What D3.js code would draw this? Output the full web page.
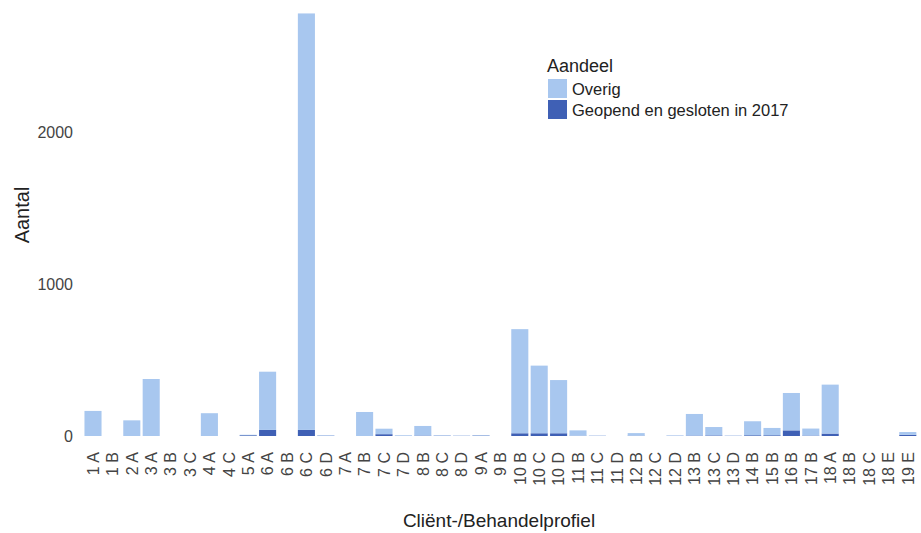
<!DOCTYPE html>
<html>
<head>
<meta charset="utf-8">
<script src="https://cdn.jsdelivr.net/npm/d3@7"></script>
<style>
  html, body { margin: 0; padding: 0; background: #ffffff; }
  svg { display: block; font-family: "Liberation Sans", Arial, sans-serif; }
</style>
</head>
<body>
<svg id="chart" width="921" height="533"></svg>
<script>
// ---- data ----
const categories = ["1 A","1 B","2 A","3 A","3 B","3 C","4 A","4 C","5 A","6 A","6 B","6 C","6 D","7 A","7 B","7 C","7 D","8 B","8 C","8 D","9 A","9 B","10 B","10 C","10 D","11 B","11 C","11 D","12 B","12 C","12 D","13 B","13 C","13 D","14 B","15 B","16 B","17 B","18 A","18 B","18 C","18 E","19 E"];
// "Geopend en gesloten in 2017"
const geopend = [0,0,0,0,0,0,0,0,5,40,0,40,2,0,0,12,1,3,2,1,3,0,18,18,18,2,1,0,2,0,1,3,4,1,5,5,37,3,16,0,0,0,8];
// "Overig"
const overig  = [165,0,103,375,0,0,150,0,3,383,0,2740,3,0,158,36,4,63,3,2,3,0,685,445,350,35,2,0,17,0,3,142,55,2,92,48,246,46,322,0,0,0,18];
const seriesNames = ["Overig", "Geopend en gesloten in 2017"];
const yTicks = [0, 1000, 2000];

// ---- layout ----
const svg = d3.select("#chart");
const colors = { "Overig": "#a8c7ef", "Geopend en gesloten in 2017": "#3f60b5" };

const x = d3.scaleBand().domain(categories).range([83.3, 917.5]).paddingInner(0.12).paddingOuter(0.06);
const y = d3.scaleLinear().domain([0, 2800]).range([436, 436 - 2800 * 0.152]);

const rows = categories.map((c, i) => ({ cat: c, "Geopend en gesloten in 2017": geopend[i], "Overig": overig[i] }));
const stack = d3.stack().keys(["Geopend en gesloten in 2017", "Overig"]);
const stacked = stack(rows);

// bars
svg.append("g").selectAll("g").data(stacked).join("g")
  .attr("fill", d => colors[d.key])
  .selectAll("rect").data(d => d).join("rect")
  .attr("x", d => x(d.data.cat))
  .attr("width", x.bandwidth())
  .attr("y", d => y(d[1]))
  .attr("height", d => Math.max(0, y(d[0]) - y(d[1])));

// y axis
const yAxis = d3.axisLeft(y).tickValues(yTicks).tickFormat(d3.format("d")).tickSize(0).tickPadding(0);
const gy = svg.append("g").attr("transform", "translate(73,0)").call(yAxis);
gy.select(".domain").remove();
gy.selectAll("text").attr("fill", "#444").style("font-size", "16px");

// x axis
const xAxis = d3.axisBottom(x).tickSize(0).tickPadding(0);
const gx = svg.append("g").attr("transform", "translate(0,452)").call(xAxis);
gx.select(".domain").remove();
gx.selectAll("text")
  .attr("fill", "#444")
  .style("font-size", "16px")
  .attr("text-anchor", "end")
  .attr("transform", "rotate(-90)")
  .attr("x", 0)
  .attr("y", 0)
  .attr("dy", "0.36em");

// axis titles
svg.append("text")
  .attr("transform", "translate(29,215) rotate(-90)")
  .attr("text-anchor", "middle")
  .attr("fill", "#222")
  .style("font-size", "20px")
  .text("Aantal");

svg.append("text")
  .attr("x", 499).attr("y", 527)
  .attr("text-anchor", "middle")
  .attr("fill", "#222")
  .style("font-size", "19px")
  .text("Cliënt-/Behandelprofiel");

// legend
const lg = svg.append("g").attr("transform", "translate(547,0)");
lg.append("text").attr("x", 0).attr("y", 72).attr("fill", "#222").style("font-size", "18px").text("Aandeel");
seriesNames.forEach((s, i) => {
  lg.append("rect").attr("x", 1).attr("y", 79 + i * 21).attr("width", 19).attr("height", 19).attr("fill", colors[s]);
  lg.append("text").attr("x", 25).attr("y", 95 + i * 21).attr("fill", "#222").style("font-size", "16.5px").text(s);
});
</script>
</body>
</html>
